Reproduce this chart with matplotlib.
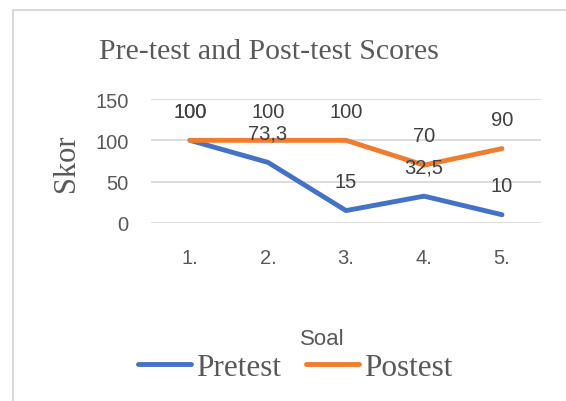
import matplotlib.pyplot as plt
from matplotlib.lines import Line2D

soal = ["1.", "2.", "3.", "4.", "5."]
pretest = [100, 73.3, 15, 32.5, 10]
postest = [100, 100, 100, 70, 90]
series_names = ["Pretest", "Postest"]
colors = ["#4472C4", "#ED7D31"]
text_color = "#595959"
grid_color = "#D9D9D9"


def fmt(v):
    # comma as decimal separator, no trailing ".0"
    s = ("%g" % v)
    return s.replace(".", ",")


fig = plt.figure(figsize=(5.66, 4.02), dpi=100)
ax = fig.add_axes([151 / 566, 178 / 402, 390 / 566, 124 / 402])

x = list(range(1, len(soal) + 1))
for vals, name, col in zip([pretest, postest], series_names, colors):
    ax.plot(x, vals, color=col, lw=3.5, label=name,
            solid_capstyle="round", solid_joinstyle="round", zorder=3)

for vals in [pretest, postest]:
    for xi, v in zip(x, vals):
        ax.annotate(fmt(v), (xi, v), xytext=(0, 21), textcoords="offset points",
                    ha="center", va="center", fontsize=14.5, color="#404040",
                    family="Liberation Sans", zorder=5)

ax.set_xlim(0.5, 5.5)
ax.set_ylim(0, 150)
ax.set_yticks([0, 50, 100, 150])
ax.set_xticks(x)
ax.set_xticklabels(soal)
ax.tick_params(length=0, labelsize=14.5, labelcolor=text_color)
ax.tick_params(axis="y", pad=16)
ax.tick_params(axis="x", pad=18)
for lab in ax.get_xticklabels() + ax.get_yticklabels():
    lab.set_family("Liberation Sans")
ax.grid(axis="y", color=grid_color, lw=1.3, zorder=0)
for sp in ax.spines.values():
    sp.set_visible(False)

fig.text(269 / 566, 1 - 52 / 402, "Pre-test and Post-test Scores", ha="center", va="center",
         fontsize=21.5, family="Liberation Serif", color=text_color)
fig.text(67 / 566, 1 - 163 / 402, "Skor", rotation=90, ha="center", va="center",
         fontsize=22, family="Liberation Serif", color=text_color)
fig.text(322 / 566, 1 - 340 / 402, "Soal", ha="center", va="center",
         fontsize=16, family="Liberation Sans", color=text_color)

leg = fig.legend(loc="center", bbox_to_anchor=(295 / 566, 1 - 368 / 402), ncol=2, frameon=False,
                 prop={"family": "Liberation Serif", "size": 22.5},
                 handlelength=1.7, handletextpad=0.15, columnspacing=0.8)
for t in leg.get_texts():
    t.set_color(text_color)

# light frame on the left and top
fig.add_artist(Line2D([13 / 566, 13 / 566, 1], [0, 1 - 11 / 402, 1 - 11 / 402],
                      color=grid_color, lw=1.5, transform=fig.transFigure))

fig.savefig("out.png", dpi=100)
